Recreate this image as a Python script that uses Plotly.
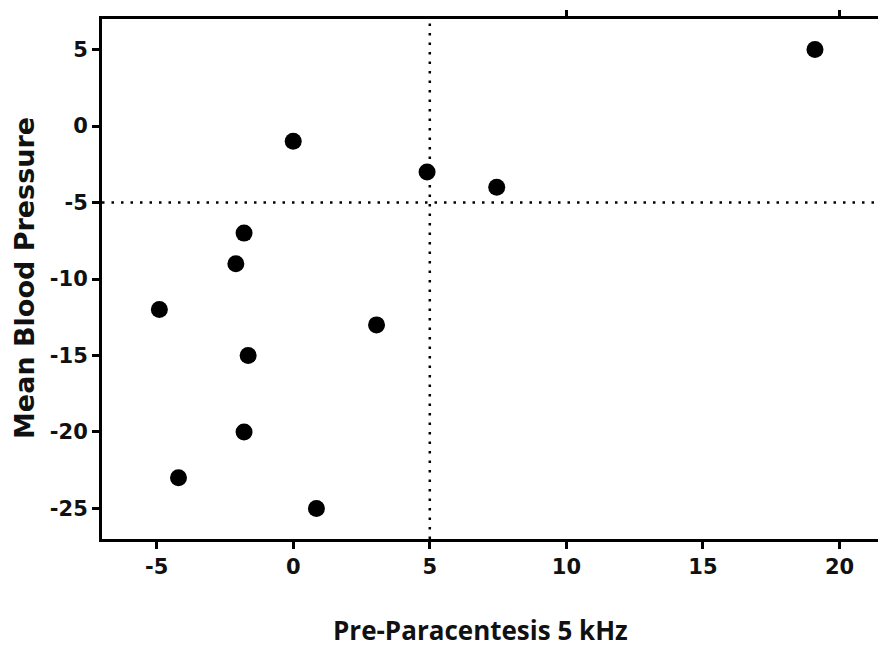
import plotly.graph_objects as go

x_vals = [19.1, 0.0, 4.9, 7.45, -1.8, -2.1, -4.9, 3.05, -1.65, -1.8, -4.2, 0.85]
y_vals = [5, -1, -3, -4, -7, -9, -12, -13, -15, -20, -23, -25]
x_ticks = [-5, 0, 5, 10, 15, 20]
x_tick_text = ["-5", "0", "5", "10", "15", "20"]
y_ticks = [5, 0, -5, -10, -15, -20, -25]
y_tick_text = ["5", "0", "-5", "-10", "-15", "-20", "-25"]
top_ticks = [10, 20]
x_ref = 5
y_ref = -5
x_range = [-7, 21.7]
y_range = [-27, 7]

# page body has an 8px margin; compensate
OFF = 8
L, T = 102 - OFF, 13 - OFF
R_EDGE, B_EDGE = 886 - OFF, 539 - OFF
W, H = 886, 651
PW, PH = R_EDGE - L, B_EDGE - T

def px_to_paper(sx, sy):
    fx, fy = sx - OFF, sy - OFF
    return (fx - L) / PW, (B_EDGE - fy) / PH

fig = go.Figure()
fig.add_trace(go.Scatter(x=x_vals, y=y_vals, mode="markers",
                         marker=dict(color="black", size=17), showlegend=False))
fig.add_trace(go.Scatter(x=[x_range[0]], y=[y_range[0]], xaxis="x2", mode="markers",
                         marker=dict(opacity=0), showlegend=False, hoverinfo="skip"))

fig.add_shape(type="line", x0=x_ref, x1=x_ref, y0=y_range[0], y1=y_range[1],
              xref="x", yref="y", line=dict(color="black", width=2.5, dash="2.5px,7px"))
fig.add_shape(type="line", x0=x_range[0], x1=x_range[1], y0=y_ref, y1=y_ref,
              xref="x", yref="y", line=dict(color="black", width=2.5, dash="2.5px,7px"))

tickfont = dict(family="DejaVu Sans", size=21, color="#111", weight="bold")

xt_x, xt_y = px_to_paper(480, 631)
yt_x, yt_y = px_to_paper(24, 275)

fig.update_layout(
    width=W, height=H,
    margin=dict(l=L, r=W - R_EDGE, t=T, b=H - B_EDGE),
    paper_bgcolor="white", plot_bgcolor="white",
    xaxis=dict(range=x_range, tickvals=x_ticks, ticktext=x_tick_text,
               showgrid=False, zeroline=False,
               showline=True, linecolor="black", linewidth=3,
               ticks="outside", ticklen=7, tickwidth=3, tickcolor="black",
               tickfont=tickfont),
    xaxis2=dict(range=x_range, overlaying="x", side="top", tickvals=top_ticks,
                showticklabels=False, showgrid=False, zeroline=False,
                showline=True, linecolor="black", linewidth=3,
                ticks="outside", ticklen=6, tickwidth=3, tickcolor="black"),
    yaxis=dict(range=y_range, tickvals=y_ticks, ticktext=y_tick_text,
               showgrid=False, zeroline=False,
               showline=True, linecolor="black", linewidth=3,
               ticks="outside", ticklen=7, tickwidth=3, tickcolor="black",
               tickfont=tickfont),
    annotations=[
        dict(text="Pre-Paracentesis 5 kHz", xref="paper", yref="paper",
             x=xt_x, y=xt_y, showarrow=False, xanchor="center", yanchor="middle",
             font=dict(family="Open Sans", size=26, color="#111", weight="bold")),
        dict(text="Mean Blood Pressure", xref="paper", yref="paper",
             x=yt_x, y=yt_y, showarrow=False, xanchor="center", yanchor="middle",
             textangle=-90,
             font=dict(family="DejaVu Sans", size=27, color="#111",
                       weight="bold")),
    ],
)

fig.write_html("out.html")
